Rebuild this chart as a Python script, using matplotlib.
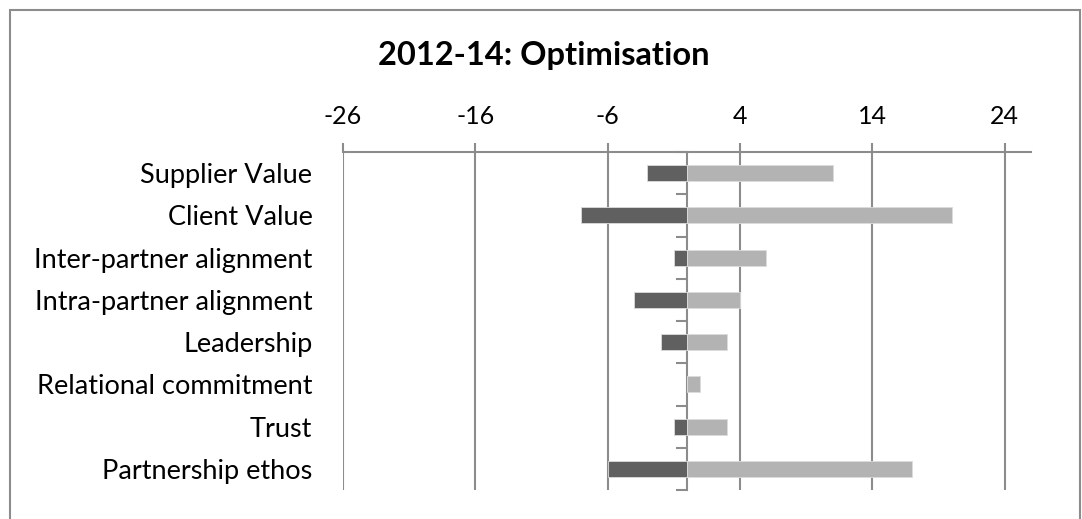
import matplotlib
matplotlib.use("Agg")
import matplotlib.pyplot as plt
from matplotlib.patches import Rectangle
import numpy as np

# Data
categories = ["Supplier Value", "Client Value", "Inter-partner alignment",
              "Intra-partner alignment", "Leadership", "Relational commitment",
              "Trust", "Partnership ethos"]
negative = [-3, -8, -1, -4, -2, 0, -1, -6]
positive = [11, 20, 6, 4, 3, 1, 3, 17]
x_ticks = [-26, -16, -6, 4, 14, 24]
x_limits = (-26, 26)
title = "2012-14: Optimisation"

plt.rcParams['font.family'] = ['Lato', 'DejaVu Sans']

W, H = 1082, 519
fig = plt.figure(figsize=(W / 100, H / 100), dpi=100)
ax = fig.add_axes([343 / W, 1 - 490 / H, (1031 - 343) / W, (490 - 152) / H])

grid_col = '#8c8c8c'
y = np.arange(len(categories))
bar_h = 0.38
ax.barh(y, negative, height=bar_h, color='#606060', edgecolor='#dcdcdc', linewidth=0.6, zorder=3)
ax.barh(y, positive, height=bar_h, color='#b3b3b3', edgecolor='#dcdcdc', linewidth=0.6, zorder=3)

ax.set_xlim(*x_limits)
ax.set_ylim(len(categories) - 0.5, -0.5)

# Value axis on top with vertical gridlines
ax.xaxis.tick_top()
ax.set_xticks(x_ticks)
ax.set_xticklabels([str(t) for t in x_ticks])
ax.tick_params(axis='x', direction='out', length=6.5, width=1.5, color=grid_col,
               pad=11, labelsize=18)
ax.grid(axis='x', color=grid_col, linewidth=1.5, zorder=0)
ax.set_axisbelow(True)
for side in ['left', 'right', 'bottom']:
    ax.spines[side].set_visible(False)
ax.spines['top'].set_color(grid_col)
ax.spines['top'].set_linewidth(1.5)

# Category labels at the left edge of the plot area
ax.set_yticks(y)
ax.set_yticklabels(categories)
ax.tick_params(axis='y', length=0, pad=22, labelsize=19.5)

# Category axis crossing at zero, with boundary ticks pointing left
zero_pos = (0 - x_limits[0]) / (x_limits[1] - x_limits[0])
sec = ax.secondary_yaxis(zero_pos)
sec.set_yticks(np.arange(len(categories) + 1) - 0.5)
sec.set_yticklabels([])
sec.tick_params(axis='y', which='both', direction='in', length=8, width=1.5,
                color=grid_col, left=False, right=True)
for sp in sec.spines.values():
    sp.set_color(grid_col)
    sp.set_linewidth(1.5)
    sp.set_zorder(4)

# Title
fig.text(544 / W, 1 - 56 / H, title, ha='center', va='center',
         fontsize=23.5, fontweight='bold')

# Chart frame
fig.patches.append(Rectangle((10 / W, -0.2), (1080 - 10) / W, 1.2 - 10 / H,
                             transform=fig.transFigure, fill=False,
                             edgecolor=grid_col, linewidth=1.5))

fig.savefig('out.png', dpi=100)
